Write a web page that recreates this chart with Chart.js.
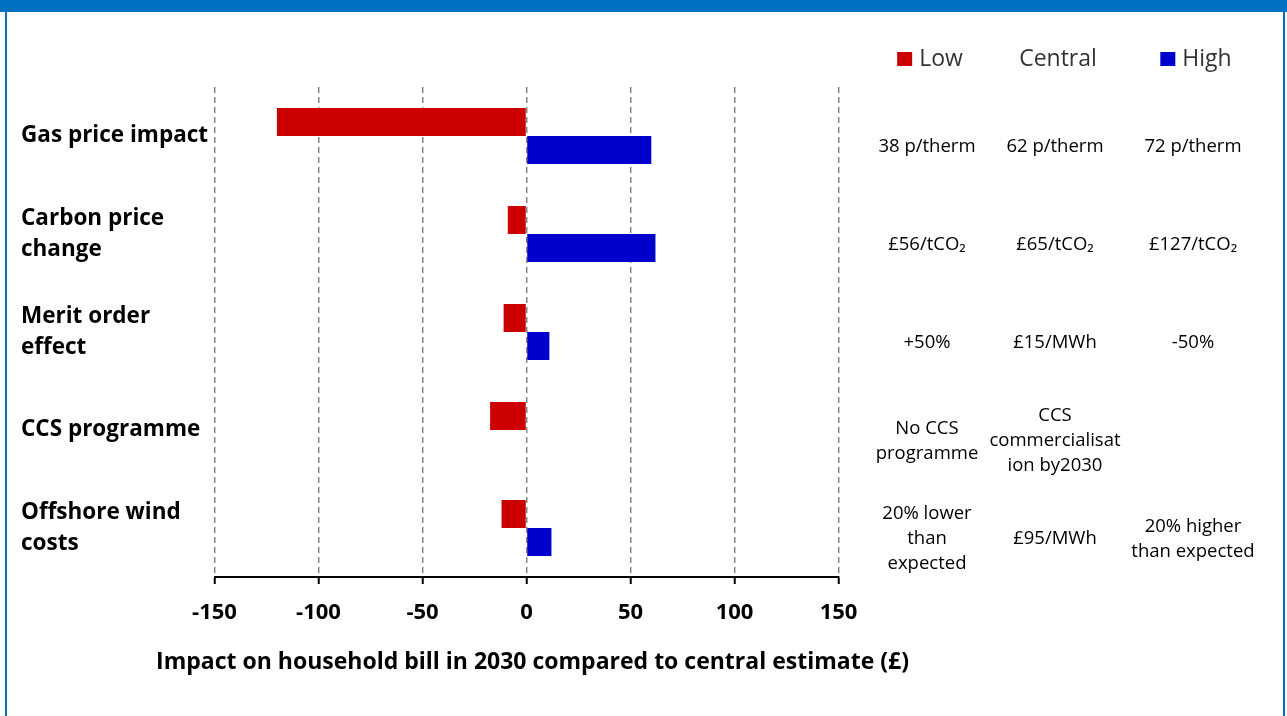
<!DOCTYPE html>
<html>
<head>
<meta charset="utf-8">
<title>Household bill sensitivities</title>
<script src="https://cdn.jsdelivr.net/npm/chart.js@4.4.1/dist/chart.umd.min.js"></script>
<style>
  html, body { margin: 0; padding: 0; background: #fff; }
  #wrap { position: relative; width: 1287px; height: 716px; overflow: hidden; }
  #chart { position: absolute; left: 0; top: 0; }
  .frame { position: absolute; background: #0070c0; pointer-events: none; }
</style>
</head>
<body>
<div id="wrap">
  <canvas id="chart" width="1287" height="716"></canvas>
  <div class="frame" style="left:0;top:0;width:1287px;height:12px"></div>
  <div class="frame" style="left:5px;top:12px;width:2px;height:704px"></div>
  <div class="frame" style="left:1283px;top:12px;width:2px;height:704px"></div>
</div>
<script>
// Sensitivities, £ change on the 2030 bill versus the central case
const categories = [
  ['Gas price impact'],
  ['Carbon price', 'change'],
  ['Merit order', 'effect'],
  ['CCS programme'],
  ['Offshore wind', 'costs']
];
const lowValues = [-120, -9, -11, -17.5, -12];
const highValues = [60, 62, 11, 0, 12];

// Assumptions behind each scenario (one entry per category)
const lowCase = ['38 p/therm', '£56/tCO₂', '+50%', ['No CCS', 'programme'], ['20% lower', 'than', 'expected']];
const centralCase = ['62 p/therm', '£65/tCO₂', '£15/MWh', ['CCS', 'commercialisat', 'ion by2030'], '£95/MWh'];
const highCase = ['72 p/therm', '£127/tCO₂', '-50%', '', ['20% higher', 'than expected']];

const xMin = -150;
const xMax = 150;
const xStep = 50;
const xTitle = 'Impact on household bill in 2030 compared to central estimate (£)';

const LOW_COLOR = '#cc0000';
const HIGH_COLOR = '#0000cc';

// assumption table to the right of the plot, plus the x axis title
// (drawn by hand so it is not squeezed to the chart area width)
const tablePlugin = {
  id: 'assumptionTable',
  afterDraw(chart) {
    const ctx = chart.ctx;
    const y = chart.scales.y;
    const area = chart.chartArea;
    const cols = [927, 1055, 1193];
    const lineH = 25;

    ctx.save();
    ctx.textBaseline = 'middle';

    // axis title
    ctx.font = 'bold 23px "Open Sans"';
    ctx.fillStyle = '#000';
    ctx.textAlign = 'center';
    ctx.fillText(xTitle, (area.left + area.right) / 2 + 6, 662);

    // legend row
    ctx.font = '23px "Open Sans"';
    const legend = [
      { text: 'Low', color: LOW_COLOR },
      { text: 'Central', color: null },
      { text: 'High', color: HIGH_COLOR }
    ];
    legend.forEach((item, i) => {
      const tw = ctx.measureText(item.text).width;
      const cx = cols[i] + 3;
      const ly = 59;
      if (item.color) {
        const total = 15 + 7 + tw;
        const x0 = cx - total / 2;
        ctx.fillStyle = item.color;
        ctx.fillRect(x0, ly - 7, 15, 14);
        ctx.fillStyle = '#333';
        ctx.textAlign = 'left';
        ctx.fillText(item.text, x0 + 22, ly);
      } else {
        ctx.fillStyle = '#333';
        ctx.textAlign = 'center';
        ctx.fillText(item.text, cx, ly);
      }
    });

    // scenario assumptions
    ctx.font = '18.5px "Open Sans"';
    ctx.fillStyle = '#000';
    ctx.textAlign = 'center';
    [lowCase, centralCase, highCase].forEach((col, c) => {
      col.forEach((entry, i) => {
        const lines = Array.isArray(entry) ? entry : [entry];
        const cy = y.getPixelForValue(i) + 11;
        const start = cy - (lines.length - 1) * lineH / 2;
        lines.forEach((ln, k) => ctx.fillText(ln, cols[c], start + k * lineH));
      });
    });
    ctx.restore();
  }
};

new Chart(document.getElementById('chart'), {
  type: 'bar',
  data: {
    labels: categories,
    datasets: [
      {
        label: 'Low',
        data: lowValues,
        backgroundColor: LOW_COLOR,
        borderWidth: 0
      },
      {
        label: 'High',
        data: highValues,
        backgroundColor: HIGH_COLOR,
        borderWidth: 0
      }
    ]
  },
  options: {
    indexAxis: 'y',
    responsive: false,
    animation: false,
    devicePixelRatio: 1,
    categoryPercentage: 0.57,
    barPercentage: 1,
    layout: {
      padding: { left: 21, top: 87, right: 448.5, bottom: 0 }
    },
    plugins: {
      legend: { display: false },
      tooltip: { enabled: false }
    },
    scales: {
      x: {
        type: 'linear',
        min: xMin,
        max: xMax,
        afterFit(scale) { scale.height = 139; },
        ticks: {
          stepSize: xStep,
          padding: 16,
          color: '#000',
          font: { family: 'Open Sans', size: 22, weight: 'bold' }
        },
        grid: {
          color: '#888',
          lineWidth: 1.5,
          tickLength: 7,
          tickColor: '#000',
          tickWidth: 2,
          tickBorderDash: []
        },
        border: { display: true, color: '#000', width: 2, dash: [6, 4] },
        title: { display: false }
      },
      y: {
        afterFit(scale) { scale.width = 193.5; },
        grid: { display: false },
        border: { display: false },
        ticks: {
          crossAlign: 'far',
          color: '#000',
          font: { family: 'Open Sans', size: 22.5, weight: 'bold', lineHeight: '31px' }
        }
      }
    }
  },
  plugins: [tablePlugin]
});
</script>
</body>
</html>
